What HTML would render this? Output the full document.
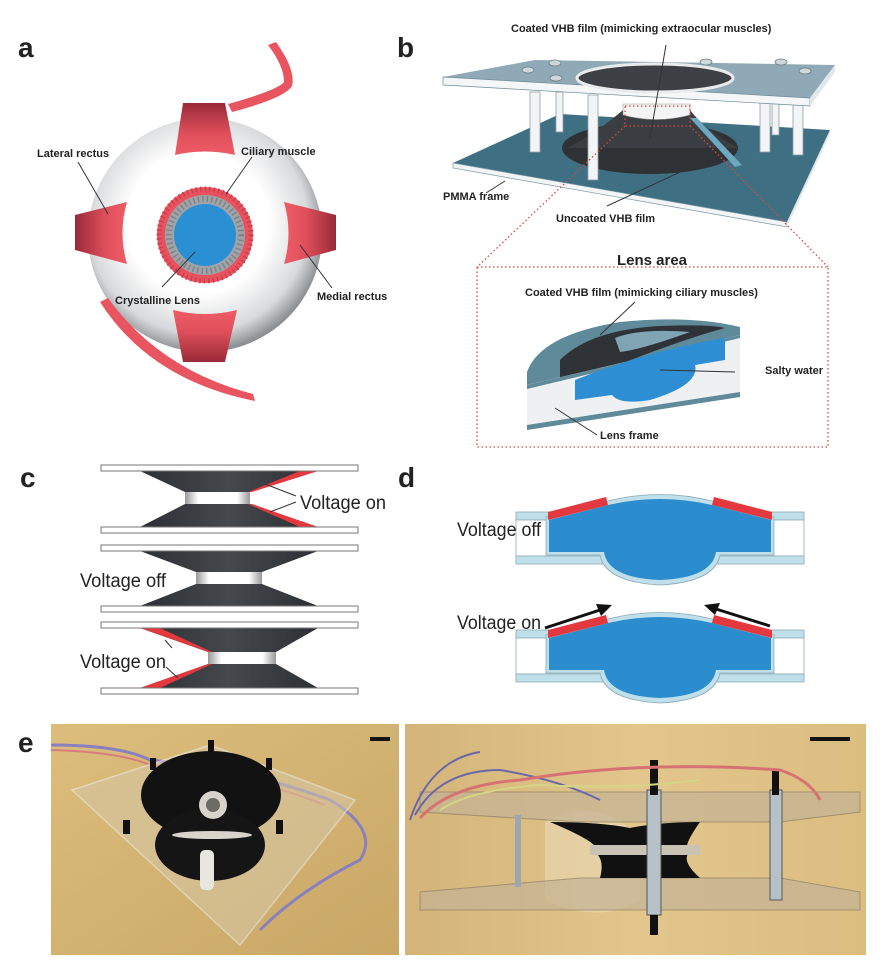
<!DOCTYPE html>
<html><head><meta charset="utf-8"><style>
html,body{margin:0;padding:0;background:#fff}
svg{display:block}
text{font-family:"Liberation Sans",Arial,sans-serif;fill:#222}
</style></head><body>
<svg width="882" height="962" viewBox="0 0 882 962" xmlns="http://www.w3.org/2000/svg">
<defs>
<radialGradient id="eye" cx="0.47" cy="0.45" r="0.55">
<stop offset="0.55" stop-color="#ffffff"/><stop offset="0.85" stop-color="#d8d9db"/><stop offset="1" stop-color="#8d9093"/>
</radialGradient>
<linearGradient id="musV" x1="0" y1="0" x2="0" y2="1"><stop offset="0" stop-color="#9a2a38"/><stop offset="0.6" stop-color="#e0505c"/><stop offset="1" stop-color="#ee5c66"/></linearGradient>
<linearGradient id="musV2" x1="0" y1="1" x2="0" y2="0"><stop offset="0" stop-color="#9a2a38"/><stop offset="0.6" stop-color="#e0505c"/><stop offset="1" stop-color="#ee5c66"/></linearGradient>
<linearGradient id="musH" x1="0" y1="0" x2="1" y2="0"><stop offset="0" stop-color="#9a2a38"/><stop offset="0.6" stop-color="#e0505c"/><stop offset="1" stop-color="#ee5c66"/></linearGradient>
<linearGradient id="musH2" x1="1" y1="0" x2="0" y2="0"><stop offset="0" stop-color="#9a2a38"/><stop offset="0.6" stop-color="#e0505c"/><stop offset="1" stop-color="#ee5c66"/></linearGradient>
<linearGradient id="neck" x1="0" y1="0" x2="1" y2="0"><stop offset="0" stop-color="#999"/><stop offset="0.2" stop-color="#fff"/><stop offset="0.8" stop-color="#fff"/><stop offset="1" stop-color="#999"/></linearGradient>
<linearGradient id="cone" x1="0" y1="0" x2="1" y2="0"><stop offset="0" stop-color="#2c2f33"/><stop offset="0.5" stop-color="#45494d"/><stop offset="1" stop-color="#2c2f33"/></linearGradient>
<linearGradient id="photo1" x1="0" y1="0" x2="1" y2="1"><stop offset="0" stop-color="#dcbd7c"/><stop offset="1" stop-color="#c9a866"/></linearGradient>
<linearGradient id="photo2" x1="0" y1="0" x2="1" y2="0"><stop offset="0" stop-color="#d4b478"/><stop offset="0.5" stop-color="#e2c68c"/><stop offset="1" stop-color="#dcbd80"/></linearGradient>
</defs>

<!-- ===== Panel a ===== -->
<text x="18" y="57" font-size="28" font-weight="bold" fill="#111">a</text>
<path d="M268 45 L276 42 Q296 70 292 86 Q285 98 232 112 L228 104 Q278 90 284 82 Q284 66 268 45Z" fill="#e85560"/>
<circle cx="205" cy="235" r="117" fill="url(#eye)"/>
<path d="M108 298 Q160 370 253 394 L255 401 Q150 380 100 302Z" fill="#e85560"/>
<path d="M183 103 L225 103 L235 155 Q205 148 175 155Z" fill="url(#musV)"/>
<path d="M183 362 L225 362 L237 310 Q205 318 173 310Z" fill="url(#musV2)"/>
<path d="M75 215 L75 250 L127 264 Q118 233 127 202Z" fill="url(#musH)"/>
<path d="M336 215 L336 250 L284 264 Q293 233 284 202Z" fill="url(#musH2)"/>
<circle cx="205" cy="235" r="48" fill="#e8525e"/>
<circle cx="205" cy="235" r="46" fill="none" stroke="#c9404c" stroke-width="5" stroke-dasharray="1.5 3"/>
<circle cx="205" cy="235" r="40" fill="#a0a4a8"/>
<circle cx="205" cy="235" r="36" fill="none" stroke="#7f8488" stroke-width="6" stroke-dasharray="1.5 3"/>
<circle cx="205" cy="235" r="31" fill="#2b8fd4"/>
<g stroke="#333" stroke-width="1">
<line x1="78" y1="162" x2="108" y2="214"/>
<line x1="252" y1="157" x2="226" y2="194"/>
<line x1="195" y1="252" x2="162" y2="287"/>
<line x1="300" y1="245" x2="332" y2="288"/>
</g>
<g font-size="11" font-weight="bold" fill="#222">
<text x="37" y="157">Lateral rectus</text>
<text x="241" y="155">Ciliary muscle</text>
<text x="115" y="304">Crystalline Lens</text>
<text x="317" y="300">Medial rectus</text>
</g>

<!-- ===== Panel b ===== -->
<text x="397" y="57" font-size="28" font-weight="bold" fill="#111">b</text>
<path d="M453 163 L560 114 L830 130 L787 222Z" fill="#3f6f82"/>
<path d="M453 163 L787 222 L787 227 L453 168Z" fill="#f2f4f5" stroke="#7b98a4" stroke-width="0.7"/>
<path d="M787 222 L830 130 L830 134 L787 227Z" fill="#dfe7ea"/>
<ellipse cx="650" cy="148" rx="88" ry="26" fill="#2f3235"/>
<path d="M568 148 Q600 130 623 110 L690 110 Q705 130 738 148 Z" fill="#3a3e42"/>
<path d="M690 118 L735 167 L742 165 L697 118Z" fill="#6ea8c0"/>
<path d="M623 104 L690 104 L690 115 Q656 124 623 115Z" fill="#f4f4f4" stroke="#999" stroke-width="0.6"/>
<g fill="#f2f4f5" stroke="#8fa1a8" stroke-width="0.8">
<rect x="530" y="92" width="10" height="60"/><rect x="556" y="92" width="7" height="40"/>
<rect x="588" y="95" width="10" height="85"/><rect x="760" y="102" width="10" height="50"/>
<rect x="793" y="100" width="10" height="55"/><rect x="772" y="100" width="7" height="35"/>
</g>
<path d="M443 77 L535 60 L835 65 L810 98Z" fill="#8faab6"/>
<path d="M443 77 L810 98 L810 106 L443 85Z" fill="#f4f6f7" stroke="#6d8b97" stroke-width="0.7"/>
<path d="M810 98 L835 65 L835 72 L810 106Z" fill="#dfe7ea"/>
<ellipse cx="655" cy="78" rx="78" ry="14" fill="#3d4145" stroke="#e8eaeb" stroke-width="3"/>
<g fill="#cfd7db" stroke="#6d8087" stroke-width="0.8">
<ellipse cx="528" cy="70" rx="6" ry="3"/><ellipse cx="556" cy="78" rx="6" ry="3"/>
<ellipse cx="706" cy="62" rx="6" ry="3"/><ellipse cx="781" cy="62" rx="6" ry="3"/>
<ellipse cx="805" cy="71" rx="6" ry="3"/><ellipse cx="555" cy="63" rx="6" ry="3"/>
</g>
<g stroke="#333" stroke-width="1">
<line x1="666" y1="45" x2="650" y2="138"/>
<line x1="607" y1="206" x2="706" y2="160"/>
<line x1="486" y1="193" x2="505" y2="181"/>
</g>
<g font-size="11" font-weight="bold" fill="#222">
<text x="511" y="32">Coated VHB film (mimicking extraocular muscles)</text>
<text x="443" y="200">PMMA frame</text>
<text x="556" y="222">Uncoated VHB film</text>
</g>
<g stroke="#d9473c" stroke-width="1.3" stroke-dasharray="1.5 2.5" fill="none">
<rect x="625" y="106" width="65" height="20"/>
<line x1="625" y1="126" x2="477" y2="267"/>
<line x1="690" y1="126" x2="828" y2="267"/>
<rect x="477" y="267" width="351" height="180"/>
</g>
<text x="652" y="265" font-size="15" font-weight="bold" fill="#e0473c" text-anchor="middle">Lens area</text>
<text x="525" y="296" font-size="11" font-weight="bold">Coated VHB film (mimicking ciliary muscles)</text>
<text x="765" y="374" font-size="11" font-weight="bold">Salty water</text>
<text x="600" y="439" font-size="11" font-weight="bold">Lens frame</text>
<path d="M527 372 Q540 335 620 322 Q690 315 740 327 L740 335 L527 385Z" fill="#5f8a9a"/>
<path d="M560 360 Q590 330 660 326 Q710 324 725 328 Q680 340 600 372 L560 380Z" fill="#2f3337"/>
<path d="M615 338 Q640 328 690 332 Q640 350 620 352Z" fill="#7fa4b3"/>
<path d="M527 385 L740 335 L740 395 L527 428Z" fill="#eef0f1"/>
<path d="M527 385 L740 335 L740 338 L527 389Z" fill="#5f8a9a"/>
<path d="M527 425 L740 392 L740 397 L527 430Z" fill="#5f8a9a"/>
<path d="M575 380 Q650 350 725 338 L725 360 L695 365 Q700 385 650 400 Q620 405 612 395 L575 400Z" fill="#2d8ed3"/>
<g stroke="#333" stroke-width="1">
<line x1="635" y1="302" x2="600" y2="335"/>
<line x1="660" y1="370" x2="735" y2="372"/>
<line x1="555" y1="408" x2="597" y2="435"/>
</g>

<!-- ===== Panel c ===== -->
<text x="20" y="487" font-size="28" font-weight="bold" fill="#111">c</text>
<path d="M140 471 L318 471 L250 492 L185 492Z" fill="url(#cone)"/>
<path d="M185 504 L250 504 L318 527 L140 527Z" fill="url(#cone)"/>
<rect x="185" y="492" width="65" height="12" fill="url(#neck)"/>
<path d="M300 471 L318 471 L252 492 L248 492Z" fill="#e3393e"/>
<path d="M248 504 L252 504 L318 527 L300 527Z" fill="#e3393e"/>
<path d="M140 551 L318 551 L262 572 L196 572Z" fill="url(#cone)"/>
<path d="M196 584 L262 584 L318 606 L140 606Z" fill="url(#cone)"/>
<rect x="196" y="572" width="66" height="12" fill="url(#neck)"/>
<path d="M140 628 L318 628 L276 652 L208 652Z" fill="url(#cone)"/>
<path d="M208 664 L276 664 L318 688 L140 688Z" fill="url(#cone)"/>
<rect x="208" y="652" width="68" height="12" fill="url(#neck)"/>
<path d="M140 628 L160 628 L212 652 L208 652Z" fill="#e3393e"/>
<path d="M208 664 L212 664 L160 688 L140 688Z" fill="#e3393e"/>
<g fill="#fff" stroke="#777" stroke-width="1">
<rect x="101" y="465" width="257" height="6"/><rect x="101" y="527" width="257" height="6"/>
<rect x="101" y="545" width="257" height="6"/><rect x="101" y="606" width="257" height="6"/>
<rect x="101" y="622" width="257" height="6"/><rect x="101" y="688" width="257" height="6"/>
</g>
<g stroke="#333" stroke-width="1">
<line x1="265" y1="484" x2="296" y2="496"/><line x1="270" y1="512" x2="296" y2="502"/>
<line x1="165" y1="640" x2="172" y2="648"/><line x1="166" y1="667" x2="178" y2="678"/>
</g>
<g font-size="19" fill="#222">
<text x="300" y="509" textLength="86" lengthAdjust="spacingAndGlyphs">Voltage on</text>
<text x="80" y="587" textLength="86" lengthAdjust="spacingAndGlyphs">Voltage off</text>
<text x="80" y="668" textLength="86" lengthAdjust="spacingAndGlyphs">Voltage on</text>
</g>

<!-- ===== Panel d ===== -->
<text x="398" y="487" font-size="28" font-weight="bold" fill="#111">d</text>
<g id="lensD">
<rect x="516" y="512" width="288" height="8" fill="#bfe0ea" stroke="#8aaab5" stroke-width="0.8"/>
<rect x="516" y="520" width="288" height="36" fill="#fff" stroke="#8aaab5" stroke-width="0.8"/>
<rect x="516" y="556" width="288" height="8" fill="#bfe0ea" stroke="#8aaab5" stroke-width="0.8"/>
<path d="M546 517 L608 501 Q660 488 712 501 L774 517 L774 555 L720 555 Q715 582 660 585 Q605 582 600 555 L546 555Z" fill="#bfe0ea" stroke="#8aaab5" stroke-width="0.8"/>
<path d="M549 520 L608 505 Q660 493 712 505 L771 520 L771 552 L716 552 Q712 578 660 580 Q608 578 604 552 L549 552Z" fill="#2b8cce"/>
<path d="M548 512 L606 497 L608 505 L548 520Z" fill="#e3393e"/>
<path d="M714 497 L772 512 L772 520 L712 505Z" fill="#e3393e"/>
</g>
<use href="#lensD" transform="translate(0,118)"/>
<g stroke="#111" stroke-width="3">
<line x1="545" y1="628" x2="600" y2="610"/><line x1="770" y1="626" x2="716" y2="609"/>
</g>
<path d="M612 605 L596 604 L601 616Z" fill="#111"/>
<path d="M704 605 L720 603 L715 615Z" fill="#111"/>
<text x="457" y="536" font-size="19" textLength="84" lengthAdjust="spacingAndGlyphs">Voltage off</text>
<text x="457" y="629" font-size="19" textLength="84" lengthAdjust="spacingAndGlyphs">Voltage on</text>

<!-- ===== Panel e ===== -->
<text x="18" y="752" font-size="28" font-weight="bold" fill="#111">e</text>
<rect x="51" y="724" width="348" height="231" fill="url(#photo1)"/>
<path d="M51 745 Q120 745 150 760 Q250 770 330 800 Q380 830 360 860 Q300 890 260 930" fill="none" stroke="#8a7fbf" stroke-width="3"/>
<path d="M51 750 Q120 752 150 765 Q250 775 325 805" fill="none" stroke="#d77c7c" stroke-width="2"/>
<path d="M72 790 L210 745 L355 800 L240 945Z" fill="#d6c8a8" opacity="0.55" stroke="#eee" stroke-width="1.5"/>
<ellipse cx="211" cy="795" rx="70" ry="44" fill="#121212"/>
<ellipse cx="210" cy="845" rx="55" ry="36" fill="#151515"/>
<circle cx="213" cy="805" r="14" fill="#d8d4cc"/><circle cx="213" cy="805" r="7" fill="#6d6b66"/>
<ellipse cx="212" cy="835" rx="40" ry="4" fill="#d8d4cc"/>
<rect x="200" y="850" width="14" height="40" rx="5" fill="#e8e6e0"/>
<g fill="#111"><rect x="150" y="758" width="6" height="12"/><rect x="208" y="740" width="6" height="14"/><rect x="266" y="758" width="6" height="12"/><rect x="123" y="820" width="7" height="14"/><rect x="276" y="820" width="7" height="14"/></g>
<rect x="370" y="737" width="20" height="4" fill="#111"/>

<rect x="405" y="724" width="461" height="231" fill="url(#photo2)"/>
<path d="M545 822 Q580 800 620 820 L640 840 L640 900 Q600 925 545 900 Z" fill="#e9d9b5" opacity="0.6"/>
<path d="M420 792 L860 792 L860 812 L780 822 L580 822 L420 812Z" fill="#c4b395" opacity="0.7" stroke="#8c7e69"/>
<path d="M420 892 L580 878 L780 878 L860 892 L860 910 L420 910Z" fill="#c4b395" opacity="0.7" stroke="#8c7e69"/>
<path d="M550 822 Q600 822 630 828 Q660 822 700 822 Q680 850 690 852 Q680 860 700 878 L600 878 Q605 860 595 852 Q605 845 550 822Z" fill="#111"/>
<rect x="590" y="845" width="110" height="10" fill="#c9c3b5"/>
<rect x="647" y="790" width="14" height="125" fill="#b7c2c8" stroke="#555"/>
<rect x="650" y="760" width="8" height="35" fill="#111"/><rect x="650" y="915" width="8" height="20" fill="#111"/>
<rect x="770" y="790" width="12" height="110" fill="#b7c2c8" stroke="#555"/>
<rect x="772" y="770" width="7" height="25" fill="#111"/>
<rect x="515" y="815" width="6" height="72" fill="#9aa7b0"/>
<path d="M410 820 Q430 760 480 752 M415 815 Q440 770 500 770 Q560 780 600 800" fill="none" stroke="#6a68a8" stroke-width="2"/>
<path d="M420 818 Q450 785 520 780 Q640 760 780 770 Q810 780 820 800" fill="none" stroke="#d77272" stroke-width="3"/>
<path d="M440 810 Q470 790 540 785 Q620 790 700 780" fill="none" stroke="#d4d686" stroke-width="2"/>
<rect x="810" y="737" width="40" height="4" fill="#111"/>
</svg>
</body></html>
